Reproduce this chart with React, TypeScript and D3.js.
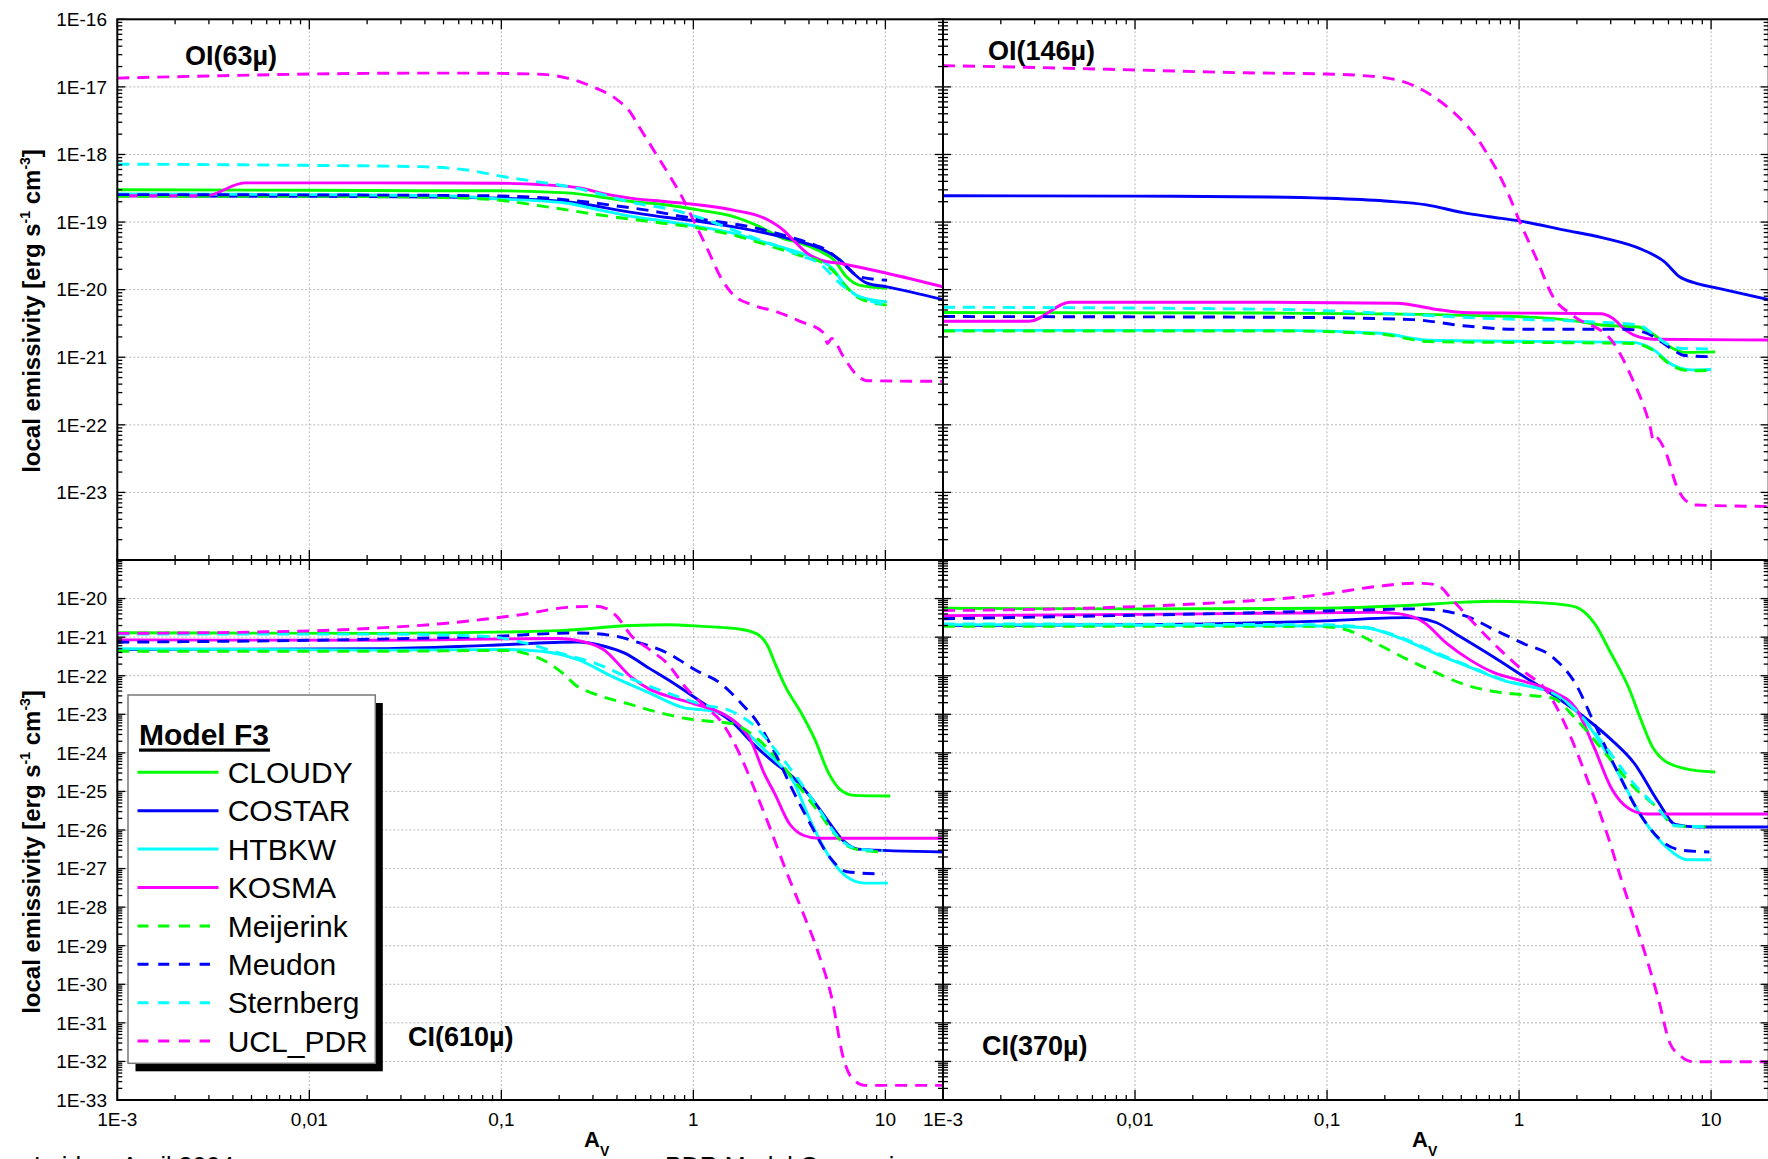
import React from 'react';
import * as d3 from 'd3';

type Pt = [number, number];

// ---------- legend / models ----------
const MODELS = ['CLOUDY', 'COSTAR', 'HTBKW', 'KOSMA', 'Meijerink', 'Meudon', 'Sternberg', 'UCL_PDR'];
const MODEL_COLORS = ['#00ff00', '#0000ff', '#00ffff', '#ff00ff', '#00ff00', '#0000ff', '#00ffff', '#ff00ff'];
const MODEL_DASHED = [false, false, false, false, true, true, true, true];

// ---------- axis tick labels ----------
const X_TICK_VALUES = [1e-3, 1e-2, 1e-1, 1, 10];
const X_TICK_LABELS = ['1E-3', '0,01', '0,1', '1', '10'];
const Y_TOP_TICK_VALUES = [1e-16, 1e-17, 1e-18, 1e-19, 1e-20, 1e-21, 1e-22, 1e-23];
const Y_TOP_TICK_LABELS = ['1E-16', '1E-17', '1E-18', '1E-19', '1E-20', '1E-21', '1E-22', '1E-23'];
const Y_BOT_TICK_VALUES = [1e-20, 1e-21, 1e-22, 1e-23, 1e-24, 1e-25, 1e-26, 1e-27, 1e-28, 1e-29, 1e-30, 1e-31, 1e-32, 1e-33];
const Y_BOT_TICK_LABELS = ['1E-20', '1E-21', '1E-22', '1E-23', '1E-24', '1E-25', '1E-26', '1E-27', '1E-28', '1E-29', '1E-30', '1E-31', '1E-32', '1E-33'];

// ---------- OI(63µ) ----------
const OI63_CLOUDY: Pt[] = [[1e-3, 3.0e-19], [0.01, 2.95e-19], [0.05, 2.9e-19], [0.098, 2.9e-19], [0.219, 2.7e-19], [0.487, 2.0e-19], [0.73, 1.79e-19], [1.08, 1.5e-19], [1.62, 1.2e-19], [2.22, 8.5e-20], [2.94, 5.7e-20], [3.6, 4.9e-20], [4.57, 3.7e-20], [5.4, 2.75e-20], [6.27, 1.55e-20], [7.3, 1.17e-20], [10.2, 1.05e-20]];
const OI63_COSTAR: Pt[] = [[1e-3, 2.45e-19], [0.01, 2.4e-19], [0.05, 2.35e-19], [0.098, 2.25e-19], [0.219, 2.0e-19], [0.487, 1.38e-19], [0.73, 1.17e-19], [1.08, 1.02e-19], [1.62, 8.5e-20], [2.41, 6.8e-20], [3.6, 5.1e-20], [4.57, 4.1e-20], [5.8, 2.75e-20], [6.8, 1.75e-20], [8.0, 1.25e-20], [10.2, 1.1e-20], [20, 7.1e-21]];
const OI63_HTBKW: Pt[] = [[1e-3, 2.6e-19], [0.01, 2.55e-19], [0.05, 2.45e-19], [0.098, 2.2e-19], [0.219, 1.9e-19], [0.327, 1.5e-19], [0.487, 1.2e-19], [0.73, 1.02e-19], [1.08, 8.5e-20], [1.62, 6.8e-20], [2.41, 4.9e-20], [3.6, 3.5e-20], [4.57, 2.75e-20], [5.4, 1.95e-20], [6.04, 1.25e-20], [7.3, 7.9e-21], [10.2, 6.6e-21]];
const OI63_KOSMA: Pt[] = [[1e-3, 2.45e-19], [0.0029, 2.45e-19], [0.0046, 3.8e-19], [0.01, 3.8e-19], [0.05, 3.78e-19], [0.098, 3.75e-19], [0.158, 3.6e-19], [0.257, 3.2e-19], [0.327, 2.7e-19], [0.45, 2.3e-19], [0.73, 2.0e-19], [1.08, 1.79e-19], [1.62, 1.5e-19], [2.41, 1.1e-19], [2.94, 7.6e-20], [3.32, 5.4e-20], [3.89, 3.5e-20], [4.57, 2.76e-20], [6.04, 2.4e-20], [10.2, 1.75e-20], [20, 1.1e-20]];
const OI63_MEIJERINK: Pt[] = [[1e-3, 2.4e-19], [0.01, 2.4e-19], [0.05, 2.3e-19], [0.098, 2.1e-19], [0.18, 1.65e-19], [0.327, 1.27e-19], [0.59, 1.02e-19], [1.08, 8.1e-20], [1.62, 6.4e-20], [2.41, 4.6e-20], [3.6, 3.2e-20], [4.57, 2.6e-20], [5.4, 1.85e-20], [6.27, 1.1e-20], [7.3, 7.5e-21], [10.2, 5.9e-21]];
const OI63_MEUDON: Pt[] = [[1e-3, 2.55e-19], [0.01, 2.52e-19], [0.05, 2.48e-19], [0.098, 2.43e-19], [0.147, 2.33e-19], [0.27, 2.0e-19], [0.4, 1.73e-19], [0.59, 1.48e-19], [0.89, 1.2e-19], [1.32, 1.02e-19], [1.97, 8.5e-20], [2.94, 6.4e-20], [4.36, 4.5e-20], [4.9, 3.9e-20], [6.27, 2.2e-20], [7.3, 1.55e-20], [10.2, 1.38e-20]];
const OI63_STERNBERG: Pt[] = [[1e-3, 7.2e-19], [0.01, 6.9e-19], [0.038, 6.6e-19], [0.066, 5.9e-19], [0.107, 4.6e-19], [0.141, 4.1e-19], [0.247, 3.16e-19], [0.327, 2.6e-19], [0.487, 1.94e-19], [0.787, 1.51e-19], [1.18, 1.07e-19], [1.62, 7.6e-20], [2.22, 5.4e-20], [2.94, 4.1e-20], [3.6, 3.2e-20], [4.57, 2.4e-20], [5.8, 1.24e-20], [6.8, 8.8e-21], [8.0, 7.1e-21], [10.2, 5.9e-21]];
const OI63_UCLPDR: Pt[] = [[1e-3, 1.35e-17], [0.003, 1.45e-17], [0.01, 1.55e-17], [0.05, 1.6e-17], [0.15, 1.55e-17], [0.22, 1.35e-17], [0.3, 1.0e-17], [0.4, 6.5e-18], [0.47, 4.2e-18], [0.52, 2.6e-18], [0.62, 1.17e-18], [0.757, 4.7e-19], [0.87, 2.4e-19], [1.0, 1.07e-19], [1.17, 4.3e-20], [1.41, 1.4e-20], [1.62, 8.3e-21], [2.05, 5.9e-21], [2.72, 4.7e-21], [3.6, 3.4e-21], [4.76, 2.3e-21], [5.0, 1.6e-21], [5.25, 1.9e-21], [6.04, 1.02e-21], [7.08, 5.5e-22], [8.0, 4.5e-22], [20, 4.4e-22]];

// ---------- OI(146µ) ----------
const OI146_CLOUDY: Pt[] = [[1e-3, 4.6e-21], [0.0566, 4.5e-21], [0.94, 4.0e-21], [2.04, 3.4e-21], [2.67, 3.0e-21], [4.2, 2.8e-21], [4.9, 2.26e-21], [6.1, 1.43e-21], [7.3, 1.18e-21], [10.5, 1.2e-21]];
const OI146_COSTAR: Pt[] = [[1e-3, 2.45e-19], [0.01, 2.42e-19], [0.05, 2.35e-19], [0.1, 2.25e-19], [0.2, 2.05e-19], [0.33, 1.8e-19], [0.51, 1.38e-19], [0.7, 1.2e-19], [1.0, 1.04e-19], [1.73, 7.6e-20], [2.7, 5.9e-20], [4.4, 3.9e-20], [5.7, 2.6e-20], [6.85, 1.55e-20], [8.3, 1.25e-20], [10.5, 1.07e-20], [20, 7.1e-21]];
const OI146_HTBKW: Pt[] = [[1e-3, 2.5e-21], [0.0566, 2.5e-21], [0.19, 2.26e-21], [0.34, 1.78e-21], [3.9, 1.66e-21], [4.9, 1.35e-21], [6.3, 7.7e-22], [7.8, 6.5e-22], [10, 6.6e-22]];
const OI146_KOSMA: Pt[] = [[1e-3, 3.4e-21], [0.0028, 3.4e-21], [0.0046, 6.5e-21], [0.01, 6.5e-21], [0.05, 6.5e-21], [0.23, 6.3e-21], [0.39, 5.0e-21], [0.51, 4.6e-21], [1.0, 4.5e-21], [2.67, 4.4e-21], [3.06, 3.8e-21], [3.6, 2.5e-21], [4.2, 2.0e-21], [5.0, 1.85e-21], [20, 1.8e-21]];
const OI146_MEIJERINK: Pt[] = [[1e-3, 2.45e-21], [0.0566, 2.45e-21], [0.19, 2.2e-21], [0.34, 1.7e-21], [3.9, 1.6e-21], [4.9, 1.3e-21], [6.3, 7.4e-22], [7.8, 6.3e-22], [10, 6.4e-22]];
const OI146_MEUDON: Pt[] = [[1e-3, 4.0e-21], [0.0566, 3.9e-21], [0.28, 3.6e-21], [0.51, 2.93e-21], [0.94, 2.6e-21], [3.6, 2.6e-21], [4.9, 2.1e-21], [6.3, 1.3e-21], [7.3, 1.06e-21], [10, 1.02e-21]];
const OI146_STERNBERG: Pt[] = [[1e-3, 5.5e-21], [0.0566, 5.1e-21], [0.19, 4.5e-21], [0.62, 3.8e-21], [2.04, 3.4e-21], [4.2, 3.0e-21], [5.0, 2.2e-21], [5.85, 1.6e-21], [6.85, 1.36e-21], [10.2, 1.32e-21]];
const OI146_UCLPDR: Pt[] = [[1e-3, 2.06e-17], [0.0027, 1.95e-17], [0.01, 1.78e-17], [0.036, 1.62e-17], [0.099, 1.55e-17], [0.138, 1.5e-17], [0.23, 1.27e-17], [0.35, 7.5e-18], [0.46, 4.1e-18], [0.6, 1.8e-18], [0.68, 1.04e-18], [0.78, 5.3e-19], [0.89, 2.4e-19], [1.0, 1.07e-19], [1.24, 2.75e-20], [1.5, 7.9e-21], [1.92, 4.1e-21], [3.04, 1.76e-21], [3.45, 9.8e-22], [3.94, 4.4e-22], [4.44, 1.96e-22], [4.81, 9.5e-23], [5.0, 6.0e-23], [5.1, 6.7e-23], [5.83, 3.8e-23], [6.63, 1.22e-23], [7.3, 7.8e-24], [8.4, 6.5e-24], [20, 6.2e-24]];

// ---------- CI(610µ) ----------
const CI610_CLOUDY: Pt[] = [[1e-3, 1.3e-21], [0.0233, 1.25e-21], [0.2, 1.48e-21], [0.475, 2.0e-21], [0.73, 2.1e-21], [1.12, 1.9e-21], [1.73, 1.63e-21], [2.15, 1.2e-21], [2.44, 5.9e-22], [2.66, 2.1e-22], [3.03, 5e-23], [3.6, 1.2e-23], [4.28, 2.3e-24], [5.08, 2.9e-25], [5.78, 1.15e-25], [6.87, 7.9e-26], [10.6, 7.6e-26]];
const CI610_COSTAR: Pt[] = [[1e-3, 4.8e-22], [0.0233, 5.0e-22], [0.085, 6.1e-22], [0.25, 7.5e-22], [0.34, 5.9e-22], [0.436, 3.9e-22], [0.59, 1.55e-22], [0.8, 6.1e-23], [1.12, 1.97e-23], [1.59, 6.3e-24], [2.06, 1.66e-24], [2.66, 5.4e-25], [3.3, 2.35e-25], [4.1, 6.9e-26], [5.08, 1.6e-26], [6.03, 5.3e-27], [7.2, 3.2e-27], [20, 2.7e-27]];
const CI610_HTBKW: Pt[] = [[1e-3, 5.0e-22], [0.0233, 4.6e-22], [0.105, 4.8e-22], [0.162, 4.3e-22], [0.25, 2.6e-22], [0.384, 9.2e-23], [0.59, 3.6e-23], [0.91, 1.44e-23], [1.12, 1.3e-23], [1.4, 1.07e-23], [1.73, 5.2e-24], [2.24, 1.5e-24], [2.66, 6.6e-25], [3.3, 1.9e-25], [4.1, 1.6e-26], [5.08, 2.1e-27], [6.3, 6.1e-28], [7.8, 4.2e-28], [10.3, 4.2e-28]];
const CI610_KOSMA: Pt[] = [[1e-3, 8.5e-22], [0.0233, 8.3e-22], [0.2, 9.2e-22], [0.26, 7.9e-22], [0.34, 4.8e-22], [0.475, 9.2e-23], [0.59, 4.5e-23], [0.73, 3.0e-23], [0.91, 2.2e-23], [1.12, 1.6e-23], [1.4, 1.07e-23], [1.73, 5.2e-24], [1.97, 2.3e-24], [2.34, 2.9e-25], [2.66, 8.5e-26], [3.16, 1.47e-26], [3.76, 7.2e-27], [4.47, 6.1e-27], [20, 6.1e-27]];
const CI610_MEIJERINK: Pt[] = [[1e-3, 4.3e-22], [0.0233, 4.3e-22], [0.105, 4.5e-22], [0.13, 3.9e-22], [0.177, 2.1e-22], [0.21, 1.13e-22], [0.246, 5.5e-23], [0.31, 3.3e-23], [0.475, 1.78e-23], [0.68, 1.07e-23], [0.91, 7.8e-24], [1.22, 6.6e-24], [1.59, 5.7e-24], [2.06, 2.8e-24], [2.66, 8.1e-25], [3.45, 1.6e-25], [4.47, 3e-26], [5.53, 7.2e-27], [6.3, 3.9e-27], [7.8, 2.9e-27], [9.7, 2.7e-27]];
const CI610_MEUDON: Pt[] = [[1e-3, 7.4e-22], [0.0233, 8.9e-22], [0.085, 1.04e-21], [0.25, 1.28e-21], [0.384, 1.09e-21], [0.52, 7.2e-22], [0.73, 3.9e-22], [1.03, 1.39e-22], [1.4, 6.1e-23], [1.73, 2.2e-23], [2.15, 6.3e-24], [2.66, 1e-24], [3.3, 1.05e-25], [4.1, 1.33e-26], [5.08, 2.1e-27], [6.3, 8.3e-28], [9.7, 7.2e-28]];
const CI610_STERNBERG: Pt[] = [[1e-3, 1.2e-21], [0.0233, 1.2e-21], [0.085, 1.04e-21], [0.13, 7.2e-22], [0.2, 3.9e-22], [0.309, 2.1e-22], [0.475, 8.3e-23], [0.73, 3.6e-23], [1.12, 1.78e-23], [1.59, 1.18e-23], [2.06, 5.2e-24], [2.66, 1.23e-24], [3.45, 2.35e-25], [4.47, 3.7e-26], [5.78, 5.9e-27], [7.2, 3.2e-27], [9.7, 2.9e-27]];
const CI610_UCLPDR: Pt[] = [[1e-3, 1.25e-21], [0.01, 1.45e-21], [0.0233, 1.74e-21], [0.0485, 2.23e-21], [0.081, 2.9e-21], [0.13, 3.9e-21], [0.219, 5.9e-21], [0.309, 6.3e-21], [0.35, 5.6e-21], [0.4, 3.4e-21], [0.475, 1.09e-21], [0.59, 4.8e-22], [0.73, 2.1e-22], [0.91, 5.0e-23], [1.12, 1.78e-23], [1.4, 6.3e-24], [1.73, 1e-24], [2.06, 1.3e-25], [2.44, 1.6e-26], [3.03, 9.1e-28], [3.76, 6.3e-29], [4.47, 6.6e-30], [5.3, 3.7e-31], [6.0, 1.4e-32], [6.6, 4.1e-33], [7.8, 2.4e-33], [20, 2.4e-33]];

// ---------- CI(370µ) ----------
const CI370_CLOUDY: Pt[] = [[1e-3, 5.6e-21], [0.011, 5.4e-21], [0.09, 5.6e-21], [0.26, 6.6e-21], [0.52, 8.1e-21], [0.74, 8.5e-21], [1.5, 7.4e-21], [1.98, 6e-21], [2.45, 2.4e-21], [3.02, 3.7e-22], [3.73, 4.8e-23], [4.3, 7.5e-24], [4.94, 1.45e-24], [6.1, 5.2e-25], [8.6, 3.4e-25], [10.5, 3.2e-25]];
const CI370_COSTAR: Pt[] = [[1e-3, 2.0e-21], [0.011, 2.1e-21], [0.09, 2.6e-21], [0.26, 3.2e-21], [0.3, 3.1e-21], [0.37, 2.4e-21], [0.49, 1.05e-21], [0.74, 3e-22], [1.05, 9.8e-23], [1.5, 3.2e-23], [2.13, 9.3e-24], [3.02, 2.2e-24], [4.0, 5.2e-25], [5.3, 5.4e-26], [6.5, 1.4e-26], [8.6, 1.2e-26], [20, 1.2e-26]];
const CI370_HTBKW: Pt[] = [[1e-3, 2.1e-21], [0.09, 1.95e-21], [0.158, 1.75e-21], [0.24, 9.4e-22], [0.37, 3.7e-22], [0.56, 1.63e-22], [0.85, 7.2e-23], [1.13, 5.3e-23], [1.5, 3.9e-23], [1.85, 1.7e-23], [2.45, 3.3e-24], [3.24, 3.4e-25], [4.3, 2.4e-26], [6.1, 3e-27], [7.5, 1.7e-27], [10, 1.7e-27]];
const CI370_KOSMA: Pt[] = [[1e-3, 3.6e-21], [0.022, 4.0e-21], [0.18, 4.4e-21], [0.24, 4.0e-21], [0.32, 2.4e-21], [0.42, 6.9e-22], [0.56, 2.5e-22], [0.74, 1.2e-22], [1.05, 7.2e-23], [1.5, 3.9e-23], [1.98, 1.4e-23], [2.45, 1.45e-24], [3.02, 1.23e-25], [3.73, 3.6e-26], [4.6, 2.6e-26], [20, 2.6e-26]];
const CI370_MEIJERINK: Pt[] = [[1e-3, 1.9e-21], [0.09, 1.9e-21], [0.124, 1.58e-21], [0.18, 6.9e-22], [0.26, 2.7e-22], [0.37, 1.2e-22], [0.52, 5.9e-23], [0.74, 3.9e-23], [1.05, 3.2e-23], [1.5, 2.6e-23], [1.98, 7.5e-24], [2.82, 9.6e-25], [4.0, 1.23e-25], [5.3, 3.6e-26], [6.5, 1.28e-26], [10, 1.2e-26]];
const CI370_MEUDON: Pt[] = [[1e-3, 3.0e-21], [0.022, 4.0e-21], [0.124, 4.9e-21], [0.3, 5.4e-21], [0.52, 3.6e-21], [0.74, 1.57e-21], [1.05, 6.9e-22], [1.5, 3e-22], [1.98, 5.9e-23], [2.45, 6.2e-24], [3.24, 3.4e-25], [4.3, 2.4e-26], [5.7, 4.6e-27], [7.0, 3e-27], [9.8, 2.7e-27]];
const CI370_STERNBERG: Pt[] = [[1e-3, 2.2e-21], [0.09, 2.1e-21], [0.158, 1.8e-21], [0.24, 1.0e-21], [0.37, 4e-22], [0.56, 1.7e-22], [0.85, 7.5e-23], [1.2, 5e-23], [1.5, 3.5e-23], [2.0, 1.2e-23], [2.8, 1.5e-24], [4.0, 1.5e-25], [5.3, 3.6e-26], [6.5, 1.3e-26], [10, 1.2e-26]];
const CI370_UCLPDR: Pt[] = [[1e-3, 4.9e-21], [0.0054, 5.6e-21], [0.022, 7.4e-21], [0.09, 1.24e-20], [0.18, 2.05e-20], [0.28, 2.5e-20], [0.37, 2.3e-20], [0.45, 9.1e-21], [0.6, 1.95e-21], [0.8, 4.6e-22], [1.05, 1.35e-22], [1.4, 3.9e-23], [1.85, 2.7e-24], [2.28, 1.9e-25], [2.82, 1.05e-26], [3.47, 3.9e-28], [4.3, 1.45e-29], [5.3, 4.4e-31], [6.1, 3e-32], [7.0, 1.34e-32], [8.1, 9.8e-33], [20, 9.8e-33]];

const OI63_SERIES = [OI63_CLOUDY, OI63_COSTAR, OI63_HTBKW, OI63_KOSMA, OI63_MEIJERINK, OI63_MEUDON, OI63_STERNBERG, OI63_UCLPDR];
const OI146_SERIES = [OI146_CLOUDY, OI146_COSTAR, OI146_HTBKW, OI146_KOSMA, OI146_MEIJERINK, OI146_MEUDON, OI146_STERNBERG, OI146_UCLPDR];
const CI610_SERIES = [CI610_CLOUDY, CI610_COSTAR, CI610_HTBKW, CI610_KOSMA, CI610_MEIJERINK, CI610_MEUDON, CI610_STERNBERG, CI610_UCLPDR];
const CI370_SERIES = [CI370_CLOUDY, CI370_COSTAR, CI370_HTBKW, CI370_KOSMA, CI370_MEIJERINK, CI370_MEUDON, CI370_STERNBERG, CI370_UCLPDR];

// ---------- layout ----------
const W = 1768, H = 1159;
const FONT = "'Liberation Sans', Arial, Helvetica, sans-serif";
const X_MIN = 1e-3, X_MAX = Math.pow(10, 1.3);
const LEFT_X0 = 117.3, MID_X = 943, RIGHT_X1 = 1768.7;
const TOP_Y = 19.3, MID_Y = 560, BOT_Y = 1100;

const xLeft = d3.scaleLog().domain([X_MIN, X_MAX]).range([LEFT_X0, MID_X]);
const xRight = d3.scaleLog().domain([X_MIN, X_MAX]).range([MID_X, RIGHT_X1]);
const yTop = d3.scaleLog().domain([1e-24, 1e-16]).range([MID_Y, TOP_Y]);
const yBot = d3.scaleLog().domain([1e-33, 1e-19]).range([BOT_Y, MID_Y]);

function logTicks(lo: number, hi: number) {
  const major: number[] = [];
  const minor: number[] = [];
  const e0 = Math.floor(Math.log10(lo)) - 1;
  const e1 = Math.ceil(Math.log10(hi)) + 1;
  for (let e = e0; e <= e1; e++) {
    const m = Math.pow(10, e);
    if (m >= lo * 0.999 && m <= hi * 1.001) major.push(m);
    for (let k = 2; k < 10; k++) {
      const v = k * Math.pow(10, e);
      if (v > lo * 1.0001 && v < hi * 0.9999) minor.push(v);
    }
  }
  return { major, minor };
}

type PanelProps = {
  id: string;
  xs: d3.ScaleLogarithmic<number, number>;
  ys: d3.ScaleLogarithmic<number, number>;
  series: Pt[][];
};

function Panel({ id, xs, ys, series }: PanelProps) {
  const [x0, x1] = xs.range();
  const [y1, y0] = ys.range();
  const xt = logTicks(xs.domain()[0], xs.domain()[1]);
  const yt = logTicks(ys.domain()[0], ys.domain()[1]);
  const XMAJ = 10, XMIN = 5, YMAJ = 8, YMIN = 5;
  const lineGen = d3
    .line<Pt>()
    .x((d) => xs(d[0]))
    .y((d) => ys(d[1]))
    .curve(d3.curveMonotoneX);
  const els: React.ReactNode[] = [];
  xt.major.forEach((v, i) => {
    const px = xs(v);
    if (px > x0 + 2 && px < x1 - 2)
      els.push(<line key={`gx${i}`} x1={px} x2={px} y1={y0} y2={y1} stroke="#b8b8b8" strokeWidth={1} strokeDasharray="2,2" />);
  });
  yt.major.forEach((v, i) => {
    const py = ys(v);
    if (py > y0 + 2 && py < y1 - 2)
      els.push(<line key={`gy${i}`} x1={x0} x2={x1} y1={py} y2={py} stroke="#b8b8b8" strokeWidth={1} strokeDasharray="2,2" />);
  });
  const curves = series.map((data, i) => (
    <path
      key={`c${i}`}
      d={lineGen(data) || ''}
      fill="none"
      stroke={MODEL_COLORS[i]}
      strokeWidth={2.9}
      strokeDasharray={MODEL_DASHED[i] ? '12,8' : undefined}
      strokeLinejoin="round"
    />
  ));
  const ticks: React.ReactNode[] = [];
  const addX = (v: number, len: number, key: string) => {
    const px = xs(v);
    ticks.push(<line key={`${key}b`} x1={px} x2={px} y1={y1} y2={y1 - len} stroke="#000" strokeWidth={1.3} />);
    ticks.push(<line key={`${key}t`} x1={px} x2={px} y1={y0} y2={y0 + len} stroke="#000" strokeWidth={1.3} />);
  };
  const addY = (v: number, len: number, key: string) => {
    const py = ys(v);
    ticks.push(<line key={`${key}l`} x1={x0} x2={x0 + len} y1={py} y2={py} stroke="#000" strokeWidth={1.3} />);
    ticks.push(<line key={`${key}r`} x1={x1} x2={x1 - len} y1={py} y2={py} stroke="#000" strokeWidth={1.3} />);
  };
  xt.major.forEach((v, i) => addX(v, XMAJ, `xM${i}`));
  xt.minor.forEach((v, i) => addX(v, XMIN, `xm${i}`));
  yt.major.forEach((v, i) => addY(v, YMAJ, `yM${i}`));
  yt.minor.forEach((v, i) => addY(v, YMIN, `ym${i}`));
  return (
    <g>
      <clipPath id={`clip-${id}`}>
        <rect x={x0} y={y0} width={x1 - x0} height={y1 - y0} />
      </clipPath>
      {els}
      <g clipPath={`url(#clip-${id})`}>{curves}</g>
      {ticks}
      <rect x={x0} y={y0} width={x1 - x0} height={y1 - y0} fill="none" stroke="#000" strokeWidth={2} />
    </g>
  );
}

function YTitle({ cx, cy }: { cx: number; cy: number }) {
  return (
    <text
      transform={`translate(${cx},${cy}) rotate(-90)`}
      textAnchor="middle"
      fontFamily={FONT}
      fontWeight="bold"
      fontSize={24}
      fill="#000"
    >
      local emissivity [erg s
      <tspan dy={-10} fontSize={14}>-1</tspan>
      <tspan dy={10}> cm</tspan>
      <tspan dy={-10} fontSize={14}>-3</tspan>
      <tspan dy={10}>]</tspan>
    </text>
  );
}

function XTitle({ x }: { x: number }) {
  return (
    <text x={x} y={1147} fontFamily={FONT} fontWeight="bold" fontSize={22} fill="#000">
      A<tspan dy={9} fontSize={14}>V</tspan>
    </text>
  );
}

function Legend() {
  const bx = 128, by = 695, bw = 247.3, bh = 368.3;
  const row0 = 772.3, dy = 38.4;
  return (
    <g fontFamily={FONT}>
      <rect x={bx + 7.5} y={by + 8} width={bw} height={bh} fill="#000" />
      <rect x={bx} y={by} width={bw} height={bh} fill="#fff" stroke="#777" strokeWidth={1.5} />
      <text x={139} y={745} fontWeight="bold" fontSize={30} fill="#000">Model F3</text>
      <rect x={139} y={748.5} width={131} height={3.2} fill="#000" />
      {MODELS.map((m, i) => {
        const y = row0 + i * dy;
        return (
          <g key={m}>
            <line
              x1={137.5}
              x2={MODEL_DASHED[i] ? 210 : 218.5}
              y1={y}
              y2={y}
              stroke={MODEL_COLORS[i]}
              strokeWidth={3}
              strokeDasharray={MODEL_DASHED[i] ? '11,9.7' : undefined}
            />
            <text x={227.7} y={y + 10.7} fontSize={30} fill="#000">{m}</text>
          </g>
        );
      })}
    </g>
  );
}

export default function App() {
  const tickFont = { fontFamily: FONT, fontSize: 19, fill: '#000' };
  return (
    <svg
      width={W}
      height={H}
      viewBox={`0 0 ${W} ${H}`}
      style={{ position: 'absolute', left: 0, top: 0, display: 'block', background: '#fff' }}
    >
      <rect x={0} y={0} width={W} height={H} fill="#fff" />
      <Panel id="oi63" xs={xLeft} ys={yTop} series={OI63_SERIES} />
      <Panel id="oi146" xs={xRight} ys={yTop} series={OI146_SERIES} />
      <Panel id="ci610" xs={xLeft} ys={yBot} series={CI610_SERIES} />
      <Panel id="ci370" xs={xRight} ys={yBot} series={CI370_SERIES} />

      {Y_TOP_TICK_VALUES.map((v, i) => (
        <text key={`yl${i}`} x={107} y={yTop(v)} dy="0.36em" textAnchor="end" {...tickFont}>{Y_TOP_TICK_LABELS[i]}</text>
      ))}
      {Y_BOT_TICK_VALUES.map((v, i) => (
        <text key={`yb${i}`} x={107} y={yBot(v)} dy="0.36em" textAnchor="end" {...tickFont}>{Y_BOT_TICK_LABELS[i]}</text>
      ))}
      {X_TICK_VALUES.map((v, i) => (
        <text key={`xl${i}`} x={xLeft(v)} y={1126} textAnchor="middle" {...tickFont}>{X_TICK_LABELS[i]}</text>
      ))}
      {X_TICK_VALUES.map((v, i) => (
        <text key={`xr${i}`} x={xRight(v)} y={1126} textAnchor="middle" {...tickFont}>{X_TICK_LABELS[i]}</text>
      ))}

      <XTitle x={584} />
      <XTitle x={1412} />
      <YTitle cx={40} cy={311} />
      <YTitle cx={40} cy={852} />

      <g fontFamily={FONT} fontWeight="bold" fontSize={27} fill="#000">
        <text x={185} y={65}>OI(63µ)</text>
        <text x={988} y={60}>OI(146µ)</text>
        <text x={408} y={1046}>CI(610µ)</text>
        <text x={982} y={1055}>CI(370µ)</text>
      </g>

      <Legend />

      <g fontFamily={FONT} fontSize={25} fill="#000">
        <text x={34} y={1175}>Leiden, April 2004</text>
        <text x={665} y={1175}>PDR Model Comparison</text>
      </g>
    </svg>
  );
}
